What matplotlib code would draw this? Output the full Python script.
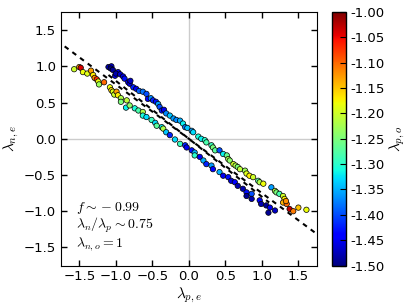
import numpy as np
import matplotlib
matplotlib.use("Agg")
import matplotlib.pyplot as plt

plt.rcParams["mathtext.fontset"] = "cm"
plt.rcParams["font.size"] = 9.5
plt.rcParams["xtick.direction"] = "in"
plt.rcParams["ytick.direction"] = "in"

# upper band (blue on the left, yellow/red on the right)
band1_x = [-1.10, -1.06, -1.07, -1.04, -0.97, -1.01, -1.00, -0.94, -0.90, -0.88, -0.83, -0.81,
           -0.80, -0.76, -0.72, -0.68, -0.63, -0.58, -0.56, -0.52, -0.49, -0.45, -0.42, -0.40,
           -0.37, -0.34, -0.31, -0.26, -0.21, -0.17, -0.12, -0.08, -0.05, -0.02, 0.04, 0.06,
           0.13, 0.17, 0.22, 0.24, 0.31, 0.33, 0.36, 0.42, 0.47, 0.52, 0.54, 0.56, 0.61, 0.64,
           0.67, 0.70, 0.77, 0.79, 0.83, 0.88, 0.95, 0.97, 1.02, 1.13, 1.18, 1.20, 1.24, 1.29,
           1.31, 1.29, 1.34, 1.33, 1.38, 1.43, 1.50, 1.61]
band1_y = [0.99, 1.00, 0.97, 0.95, 0.92, 0.87, 0.90, 0.89, 0.86, 0.83, 0.78, 0.76,
           0.80, 0.71, 0.69, 0.66, 0.65, 0.62, 0.55, 0.56, 0.53, 0.51, 0.48, 0.44,
           0.39, 0.40, 0.35, 0.32, 0.28, 0.26, 0.25, 0.21, 0.16, 0.15, 0.11, 0.09,
           0.03, 0.00, -0.02, -0.05, -0.09, -0.12, -0.16, -0.16, -0.21, -0.23, -0.28, -0.30, -0.35, -0.37,
           -0.39, -0.42, -0.44, -0.48, -0.51, -0.53, -0.58, -0.60, -0.62, -0.67, -0.72, -0.74, -0.76, -0.79,
           -0.83, -0.88, -0.90, -0.86, -0.97, -1.00, -0.95, -0.98]
band1_c = [-1.48, -1.47, -1.50, -1.49, -1.46, -1.45, -1.48, -1.47, -1.46, -1.43, -1.44, -1.46,
           -1.47, -1.42, -1.45, -1.39, -1.38, -1.40, -1.44, -1.37, -1.42, -1.43, -1.36, -1.40,
           -1.43, -1.45, -1.37, -1.34, -1.36, -1.37, -1.35, -1.32, -1.38, -1.34, -1.36, -1.33,
           -1.31, -1.32, -1.30, -1.28, -1.29, -1.25, -1.27, -1.40, -1.32, -1.26, -1.22, -1.24, -1.20, -1.22,
           -1.25, -1.21, -1.23, -1.19, -1.17, -1.20, -1.27, -1.22, -1.18, -1.36, -1.22, -1.25, -1.28, -1.20,
           -1.17, -1.14, -1.10, -1.12, -1.03, -1.11, -1.15, -1.18]

# lower band (yellow/red on the left, blue on the right)
band2_x = [-1.57, -1.50, -1.48, -1.45, -1.39, -1.34, -1.31, -1.29, -1.26, -1.24, -1.23, -1.16,
           -1.08, -1.06, -1.04, -1.02, -0.99, -0.97, -0.93, -0.93, -0.85, -0.86, -0.81, -0.74,
           -0.69, -0.63, -0.63, -0.58, -0.51, -0.46, -0.44, -0.37, -0.35, -0.31, -0.26, -0.19,
           -0.12, -0.05, -0.03, 0.04, 0.08, 0.08, 0.15, 0.20, 0.24, 0.31, 0.33, 0.42,
           0.47, 0.54, 0.58, 0.63, 0.67, 0.74, 0.79, 0.79, 0.86, 0.86, 0.97, 0.99,
           1.06, 1.11, 1.09, 1.18]
band2_y = [0.96, 0.99, 0.98, 0.92, 0.90, 0.94, 0.88, 0.84, 0.82, 0.79, 0.75, 0.78,
           0.71, 0.67, 0.65, 0.61, 0.65, 0.60, 0.56, 0.51, 0.53, 0.43, 0.46, 0.42,
           0.39, 0.37, 0.32, 0.30, 0.26, 0.22, 0.18, 0.16, 0.14, 0.09, 0.05, -0.01,
           -0.07, -0.09, -0.12, -0.16, -0.19, -0.23, -0.25, -0.30, -0.35, -0.37, -0.42, -0.46,
           -0.51, -0.53, -0.58, -0.60, -0.65, -0.69, -0.74, -0.79, -0.76, -0.83, -0.85, -0.90,
           -0.92, -0.95, -1.02, -0.99]
band2_c = [-1.20, -1.13, -1.04, -1.18, -1.19, -1.13, -1.17, -1.12, -1.07, -1.18, -1.23, -1.10,
           -1.18, -1.16, -1.19, -1.20, -1.13, -1.17, -1.22, -1.25, -1.21, -1.32, -1.24, -1.31,
           -1.28, -1.22, -1.31, -1.33, -1.29, -1.33, -1.27, -1.32, -1.22, -1.34, -1.42, -1.33,
           -1.29, -1.42, -1.45, -1.43, -1.35, -1.30, -1.45, -1.35, -1.42, -1.36, -1.44, -1.35,
           -1.45, -1.43, -1.46, -1.44, -1.48, -1.48, -1.43, -1.49, -1.40, -1.48, -1.44, -1.48,
           -1.49, -1.45, -1.49, -1.47]

ratio = 0.75
slope2 = 0.80
line_x = [-1.70, 1.75]
line2_x = [-1.10, 1.10]
cbar_ticks = [-1.50, -1.45, -1.40, -1.35, -1.30, -1.25, -1.20, -1.15, -1.10, -1.05, -1.00]

fig = plt.figure(figsize=(4.15, 3.07), dpi=100)
ax = fig.add_axes([0.147, 0.135, 0.616, 0.826])

ax.axhline(0, color="0.8", lw=1, zorder=0)
ax.axvline(0, color="0.8", lw=1, zorder=0)

xs = np.concatenate([band1_x, band2_x])
ys = np.concatenate([band1_y, band2_y])
cs = np.concatenate([band1_c, band2_c])
sc = ax.scatter(xs, ys, c=cs, cmap="jet", vmin=-1.5, vmax=-1.0, s=15,
                edgecolors="k", linewidths=0.5, zorder=2)

# dashed guide lines
lx = np.array(line_x)
ax.plot(lx, -ratio * lx, color="k", lw=1.5, dashes=(2.3, 2.3), zorder=3)
l2 = np.array(line2_x)
ax.plot(l2, -slope2 * l2, color="k", lw=1.5, dashes=(2.3, 2.3), zorder=3)

ax.set_xlim(-1.75, 1.75)
ax.set_ylim(-1.75, 1.75)
ax.set_xticks([-1.5, -1.0, -0.5, 0.0, 0.5, 1.0, 1.5])
ax.set_yticks([-1.5, -1.0, -0.5, 0.0, 0.5, 1.0, 1.5])
ax.tick_params(top=True, right=True, length=4, width=1)
ax.set_xlabel(r"$\lambda_{p,e}$", fontsize=11, labelpad=2)
ax.set_ylabel(r"$\lambda_{n,e}$", fontsize=11, labelpad=2)

ax.text(-1.54, -0.95, r"$f\sim -0.99$", fontsize=10, va="center")
ax.text(-1.54, -1.20, r"$\lambda_n/\lambda_p\sim 0.75$", fontsize=10, va="center")
ax.text(-1.54, -1.45, r"$\lambda_{n,o}=1$", fontsize=10, va="center")

cax = fig.add_axes([0.799, 0.135, 0.034, 0.826])
cb = fig.colorbar(sc, cax=cax, ticks=cbar_ticks, format="%.2f")
cb.ax.tick_params(direction="in", length=4, width=0.8)
cb.set_label(r"$\lambda_{p,o}$", fontsize=11, labelpad=2)
cb.outline.set_linewidth(1)

fig.savefig("out.png", dpi=100)
